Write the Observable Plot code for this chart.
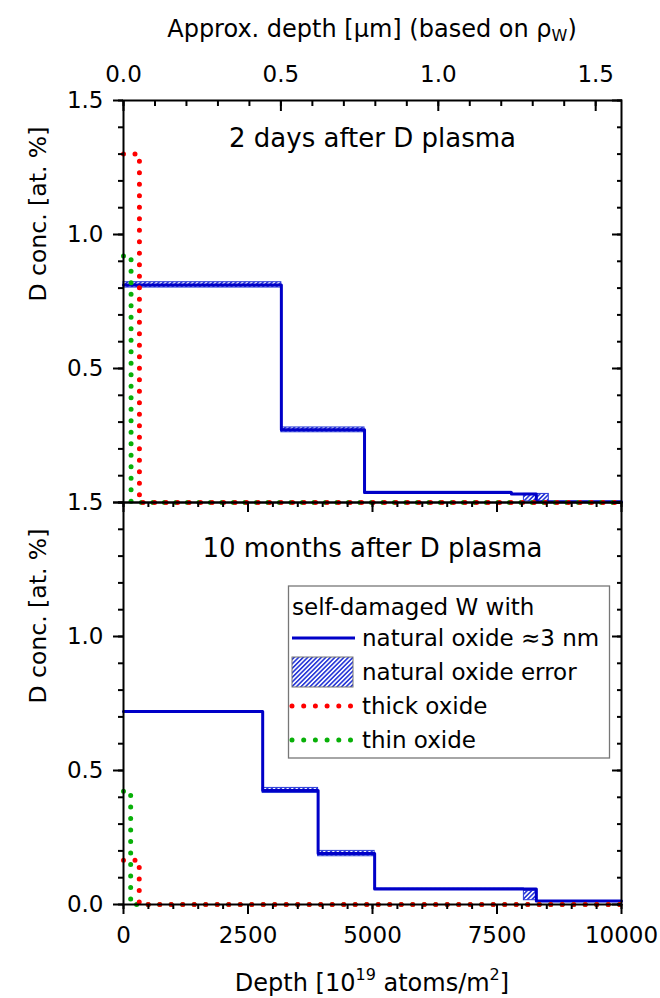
<!DOCTYPE html>
<html>
<head>
<meta charset="utf-8">
<script src="https://cdn.jsdelivr.net/npm/d3@7"></script>
<script src="https://cdn.jsdelivr.net/npm/@observablehq/plot@0.6"></script>
<style>
  body { margin: 0; background: #fff; }
  #chart svg { font-family: "DejaVu Sans", sans-serif; }
</style>
</head>
<body>
<div id="chart"></div>
<script>
// Panels (measurement time after D plasma exposure)
const panels = ["2 days after D plasma", "10 months after D plasma"];

// Natural oxide (≈3 nm): layer boundaries [1e19 atoms/m²], D concentration per layer [at.%] and its error range
const natEdges2d = [0, 3170, 4840, 7790, 8040, 8290, 8540, 10000];
const natConc2d  = [0.812, 0.271, 0.037, 0.032, 0.032, 0.003, 0.003];
const natLo2d    = [0.802, 0.262, 0.034, 0.032, 0.004, 0.002, 0.003];
const natHi2d    = [0.822, 0.280, 0.040, 0.032, 0.032, 0.032, 0.003];

const natEdges10m = [0, 2795, 3908, 5043, 8040, 8290, 10000];
const natConc10m  = [0.720, 0.425, 0.190, 0.058, 0.058, 0.013];
const natLo10m    = [0.720, 0.416, 0.180, 0.056, 0.016, 0.013];
const natHi10m    = [0.720, 0.435, 0.200, 0.060, 0.051, 0.013];

// Thick oxide
const thickEdges2d  = [0, 320, 10000];
const thickConc2d   = [1.30, 0.0];
const thickEdges10m = [0, 316, 10000];
const thickConc10m  = [0.165, 0.0];

// Thin oxide
const thinEdges2d  = [0, 152, 10000];
const thinConc2d   = [0.92, 0.0];
const thinEdges10m = [0, 144, 10000];
const thinConc10m  = [0.423, 0.0];

// Axis ticks
const depthTicks = [0, 2500, 5000, 7500, 10000];
const depthMinor = d3.range(0, 10001, 500);
const concTicks = [0, 0.5, 1.0, 1.5];
const concMinor = d3.range(0, 1.51, 0.1);
const umTicks = [0.0, 0.5, 1.0, 1.5];
const umMinor = d3.range(0, 1.55, 0.1);

// 1e23 atoms/m² of W (density 6.32e28 atoms/m³) ≈ 1.582 µm
const umPerUnit = 1.582 / 10000;
const toDepth = u => u / umPerUnit;

const blue = "#0000c8", red = "#ff0000", green = "#08b008";

function stepRows(panel, edges, conc) {
  return edges.map((x, i) => ({panel, x, y: conc[Math.min(i, conc.length - 1)]}));
}
function bandRows(panel, edges, lo, hi) {
  return lo.map((l, i) => ({panel, x1: edges[i], x2: edges[i + 1], lo: l, hi: hi[i]}))
           .filter(d => d.hi > d.lo);
}

const natural = [...stepRows(panels[0], natEdges2d, natConc2d), ...stepRows(panels[1], natEdges10m, natConc10m)];
const naturalErr = [...bandRows(panels[0], natEdges2d, natLo2d, natHi2d), ...bandRows(panels[1], natEdges10m, natLo10m, natHi10m)];
const thick = [...stepRows(panels[0], thickEdges2d, thickConc2d), ...stepRows(panels[1], thickEdges10m, thickConc10m)];
const thin = [...stepRows(panels[0], thinEdges2d, thinConc2d), ...stepRows(panels[1], thinEdges10m, thinConc10m)];

const dotted = {x: "x", y: "y", fy: "panel", curve: "step-after", strokeWidth: 5,
                strokeDasharray: "0 11.5", strokeLinecap: "round"};
const noText = () => "";

const chart = Plot.plot({
  width: 660,
  height: 998,
  marginLeft: 123,
  marginRight: 39,
  marginTop: 99,
  marginBottom: 94,
  style: {fontFamily: "DejaVu Sans, sans-serif", fontSize: "23px", color: "#000", background: "#fff"},
  x: {domain: [0, 10000]},
  y: {domain: [0, 1.5]},
  fy: {domain: panels, padding: 0, axis: null},
  marks: [
    // natural oxide error bands and profile
    Plot.rect(naturalErr, {x1: "x1", x2: "x2", y1: "lo", y2: "hi", fy: "panel",
                           fill: "url(#hatch)", stroke: "#2a3ad8", strokeWidth: 1}),
    Plot.line(natural, {x: "x", y: "y", fy: "panel", curve: "step-after", stroke: blue, strokeWidth: 3}),
    Plot.line(thin, {...dotted, stroke: green}),
    Plot.line(thick, {...dotted, stroke: red}),

    Plot.frame({stroke: "#000", strokeWidth: 2}),

    // left axis
    Plot.axisY(concTicks, {facetAnchor: null, tickSize: 10, strokeWidth: 2, tickFormat: noText, label: null}),
    Plot.axisY(concMinor, {facetAnchor: null, tickSize: 5, strokeWidth: 2, tickFormat: noText, label: null}),
    Plot.axisY([0.5, 1.0, 1.5], {facetAnchor: "top", tickSize: 0, tickPadding: 20, tickFormat: d => d.toFixed(1), label: null}),
    Plot.axisY(concTicks, {facetAnchor: "bottom", tickSize: 0, tickPadding: 20, tickFormat: d => d.toFixed(1), label: null}),
    // right axis (inward ticks)
    Plot.axisY(concTicks, {anchor: "right", facetAnchor: null, tickSize: -10, strokeWidth: 2, tickFormat: noText, label: null}),
    Plot.axisY(concMinor, {anchor: "right", facetAnchor: null, tickSize: -5, strokeWidth: 2, tickFormat: noText, label: null}),

    // bottom depth axis
    Plot.axisX(depthTicks, {anchor: "bottom", facetAnchor: null, tickSize: 10, strokeWidth: 2, tickFormat: noText, label: null}),
    Plot.axisX(depthMinor, {anchor: "bottom", facetAnchor: null, tickSize: 5, strokeWidth: 2, tickFormat: noText, label: null}),
    Plot.axisX(depthTicks, {anchor: "bottom", facetAnchor: "bottom", tickSize: 0, tickPadding: 22, tickFormat: d => String(d), label: null}),

    // top approximate depth axis in µm (inward ticks)
    Plot.axisX(umTicks.map(toDepth), {anchor: "top", facetAnchor: "top", tickSize: -10, strokeWidth: 2, tickFormat: noText, label: null}),
    Plot.axisX(umMinor.map(toDepth), {anchor: "top", facetAnchor: "top", tickSize: -5, strokeWidth: 2, tickFormat: noText, label: null}),
    Plot.axisX(umTicks.map(toDepth), {anchor: "top", facetAnchor: "top", tickSize: 0, tickPadding: 19,
                                      tickFormat: d => (d * umPerUnit).toFixed(1), label: null}),

    // y titles
    Plot.text(panels, {fy: d => d, text: () => "D conc. [at. %]", frameAnchor: "left", rotate: -90, dx: -85, fontSize: 23.5}),

    // panel titles
    Plot.text([panels[0]], {fy: d => d, text: d => d, frameAnchor: "top", lineAnchor: "middle", dy: 38, fontSize: 26}),
    Plot.text([panels[1]], {fy: d => d, text: d => d, frameAnchor: "top", lineAnchor: "middle", dy: 46, fontSize: 26})
  ]
});

const svg = d3.select(chart);

// hatch pattern for the error bands
const defs = svg.insert("defs", ":first-child");
const pat = defs.append("pattern")
  .attr("id", "hatch").attr("patternUnits", "userSpaceOnUse")
  .attr("width", 3.2).attr("height", 3.2).attr("patternTransform", "rotate(45)");
pat.append("rect").attr("width", 3.2).attr("height", 3.2).attr("fill", "#ffffff");
pat.append("line").attr("x1", 0.8).attr("y1", 0).attr("x2", 0.8).attr("y2", 3.2)
  .attr("stroke", "#2a3ad8").attr("stroke-width", 1.7);

const cx = (123 + (660 - 39)) / 2;

// top axis title
const topTitle = svg.append("text").attr("x", cx).attr("y", 29)
  .attr("text-anchor", "middle").attr("dominant-baseline", "central").attr("font-size", 24);
topTitle.append("tspan").text("Approx. depth [µm] (based on ρ");
topTitle.append("tspan").attr("font-size", 16).attr("dy", 6).text("W");
topTitle.append("tspan").attr("dy", -6).text(")");

// bottom axis title
const bottomTitle = svg.append("text").attr("x", cx).attr("y", 983)
  .attr("text-anchor", "middle").attr("dominant-baseline", "central").attr("font-size", 24);
bottomTitle.append("tspan").text("Depth [10");
bottomTitle.append("tspan").attr("font-size", 16).attr("dy", -9).text("19");
bottomTitle.append("tspan").attr("dy", 9).text(" atoms/m");
bottomTitle.append("tspan").attr("font-size", 16).attr("dy", -9).text("2");
bottomTitle.append("tspan").attr("dy", 9).text("]");

// legend
const lg = svg.append("g").attr("font-size", 23).attr("text-anchor", "start");
lg.append("rect").attr("x", 288.5).attr("y", 586).attr("width", 321).attr("height", 172)
  .attr("fill", "#fff").attr("stroke", "#777").attr("stroke-width", 1.3);
const row = (y, label) => lg.append("text").attr("x", 362).attr("y", y)
  .attr("dominant-baseline", "central").text(label);
lg.append("text").attr("x", 292).attr("y", 607).attr("dominant-baseline", "central").text("self-damaged W with");
lg.append("line").attr("x1", 292).attr("x2", 355).attr("y1", 638).attr("y2", 638)
  .attr("stroke", blue).attr("stroke-width", 3);
row(638, "natural oxide ≈3 nm");
lg.append("rect").attr("x", 292).attr("y", 657).attr("width", 61).attr("height", 30)
  .attr("fill", "url(#hatch)").attr("stroke", "#777").attr("stroke-width", 1);
row(672, "natural oxide error");
lg.append("line").attr("x1", 292).attr("x2", 350.5).attr("y1", 706).attr("y2", 706)
  .attr("stroke", red).attr("stroke-width", 5).attr("stroke-dasharray", "0 11.7").attr("stroke-linecap", "round");
row(706, "thick oxide");
lg.append("line").attr("x1", 292).attr("x2", 350.5).attr("y1", 740).attr("y2", 740)
  .attr("stroke", green).attr("stroke-width", 5).attr("stroke-dasharray", "0 11.7").attr("stroke-linecap", "round");
row(740, "thin oxide");

document.getElementById("chart").appendChild(chart);
</script>
</body>
</html>
